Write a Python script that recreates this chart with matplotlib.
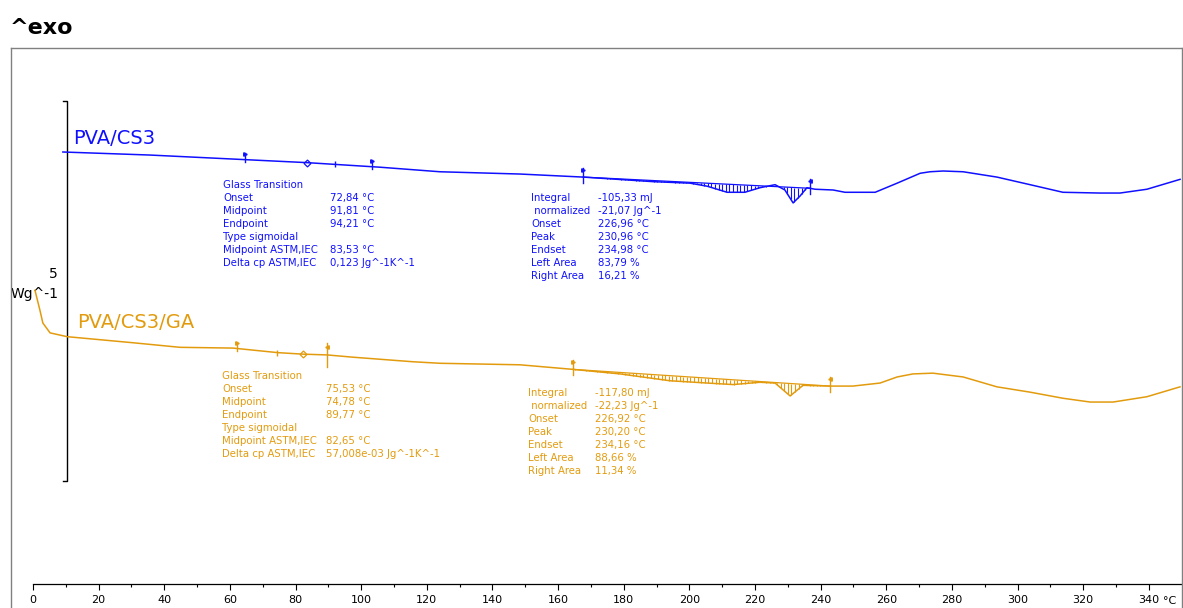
import numpy as np
import matplotlib
matplotlib.use('Agg')
import matplotlib.pyplot as plt
from matplotlib.lines import Line2D
from matplotlib.ticker import FixedLocator, FuncFormatter

# DSC curves: temperature (degC) and heat flow (W/g, exo up, curves offset)
t_cs3 = [9.1, 35.6, 54.8, 83.5, 105.7, 124.0, 148.4, 167.6, 188.9, 200.2,
         205.4, 211.5, 216.9, 221.5, 226.1, 229.1, 231.6, 233.7, 235.8, 238.3,
         243.8, 247.4, 256.6, 263.3, 270.3, 273.3, 277.3, 283.4, 293.7, 303.8,
         313.8, 325.1, 331.2, 339.4, 349.5]
hf_cs3 = [6.00, 5.96, 5.92, 5.86, 5.80, 5.74, 5.71, 5.67, 5.61, 5.59,
          5.55, 5.47, 5.47, 5.53, 5.57, 5.50, 5.33, 5.42, 5.53, 5.51,
          5.50, 5.47, 5.47, 5.59, 5.72, 5.74, 5.75, 5.74, 5.67, 5.57,
          5.47, 5.46, 5.46, 5.51, 5.64]

t_ga = [0.6, 2.1, 3.0, 5.2, 10.4, 30.5, 44.8, 60.9, 74.6, 82.3,
        89.6, 97.5, 115.8, 124.0, 148.4, 164.5, 178.9, 194.1, 205.4, 213.3,
        221.5, 226.1, 230.7, 234.6, 242.8, 249.8, 258.1, 263.3, 268.1, 274.2,
        283.4, 293.7, 303.8, 313.8, 322.1, 329.1, 339.4, 349.5]
hf_ga = [4.18, 3.92, 3.75, 3.62, 3.57, 3.49, 3.43, 3.42, 3.36, 3.34,
         3.33, 3.30, 3.24, 3.22, 3.20, 3.14, 3.08, 2.99, 2.96, 2.94,
         2.97, 2.96, 2.79, 2.93, 2.92, 2.92, 2.96, 3.04, 3.08, 3.09,
         3.04, 2.91, 2.84, 2.76, 2.71, 2.71, 2.78, 2.91]

# evaluation markers (degC)
gt_marks_cs3 = [64.6, 83.5, 92.0, 103.3]
gt_marks_ga = [62.2, 74.3, 82.3, 89.6]
int_limits_cs3 = [167.6, 236.7]
int_limits_ga = [164.5, 242.8]

gt_labels = ['Glass Transition', 'Onset', 'Midpoint', 'Endpoint',
             'Type sigmoidal', 'Midpoint ASTM,IEC', 'Delta cp ASTM,IEC']
gt_vals_cs3 = ['', '72,84 °C', '91,81 °C', '94,21 °C', '', '83,53 °C',
               '0,123 Jg^-1K^-1']
gt_vals_ga = ['', '75,53 °C', '74,78 °C', '89,77 °C', '', '82,65 °C',
              '57,008e-03 Jg^-1K^-1']
int_labels = ['Integral', ' normalized', 'Onset', 'Peak', 'Endset',
              'Left Area', 'Right Area']
int_vals_cs3 = ['-105,33 mJ', '-21,07 Jg^-1', '226,96 °C', '230,96 °C',
                '234,98 °C', '83,79 %', '16,21 %']
int_vals_ga = ['-117,80 mJ', '-22,23 Jg^-1', '226,92 °C', '230,20 °C',
               '234,16 °C', '88,66 %', '11,34 %']

BLUE = '#1010ff'
ORANGE = '#e39b0e'
W, H = 1183, 608
PX_PER_C = 3.282
X0_PX = 33
PX_PER_Y = 76.0


def px(xp, yp):
    # pixel position -> data coords
    return (xp - X0_PX) / PX_PER_C, (H - yp) / PX_PER_Y


fig = plt.figure(figsize=(W / 100, H / 100), dpi=100)
fig.patch.set_facecolor('white')
ax = fig.add_axes([0, 0, 1, 1])
ax.set_xlim(px(0, 0)[0], px(W, 0)[0])
ax.set_ylim(0, H / PX_PER_Y)
for s in ['left', 'right', 'top']:
    ax.spines[s].set_visible(False)
ax.set_yticks([])

# frame
fc = '#808080'
for xs, ys in [([11, 11], [48, H]), ([11, 1182], [48, 48]), ([1182, 1182], [48, H])]:
    fig.add_artist(Line2D([x / W for x in xs], [1 - y / H for y in ys],
                          color=fc, lw=1.0))

fig.text(10 / W, 1 - 28 / H, '^exo', fontsize=16, fontweight='bold',
         ha='left', va='center')

# temperature axis
ax.spines['bottom'].set_position(('data', px(0, 584)[1]))
ax.spines['bottom'].set_bounds(0, px(W, 0)[0])
ax.spines['bottom'].set_linewidth(0.9)
ax.xaxis.set_major_locator(FixedLocator(np.arange(0, 341, 20)))
ax.xaxis.set_minor_locator(FixedLocator(np.arange(10, 341, 20)))
ax.xaxis.set_major_formatter(FuncFormatter(lambda v, p: f'{v:.0f}'))
ax.tick_params(axis='x', which='major', direction='out', length=4,
               width=0.8, labelsize=8, pad=4)
ax.tick_params(axis='x', which='minor', direction='out', length=2.5, width=0.8)
cx, cy = px(1163, 601)
ax.text(cx, cy, '°C', fontsize=8, ha='left', va='center')

# scale bar 5 W/g
sx, _ = px(67, 0)
sx2, _ = px(63, 0)
y_top, y_bot = px(0, 101)[1], px(0, 481)[1]
ax.plot([sx2, sx, sx, sx2], [y_top, y_top, y_bot, y_bot], color='black', lw=1.0)
ax.text(*px(58, 274), '5', fontsize=10, ha='right', va='center')
ax.text(*px(59, 294), 'Wg^-1', fontsize=10, ha='right', va='center')


def draw_curve(t, hf, color, gt_marks, limits, kinds):
    t = np.array(t)
    hf = np.array(hf)
    ax.plot(t, hf, color=color, lw=1.1, zorder=3)
    u = 1 / PX_PER_Y
    # glass transition markers
    for tm, kind in zip(gt_marks, kinds):
        ym = np.interp(tm, t, hf)
        if kind == 'flag':
            ax.plot([tm, tm], [ym - 2 * u, ym + 7 * u], color=color, lw=1.0)
            ax.plot([tm], [ym + 6 * u], marker='>', ms=2.5, color=color)
        elif kind == 'diamond':
            ax.plot([tm], [ym], marker='D', ms=3.5, mfc='white', mec=color, mew=0.9)
        elif kind == 'tick':
            ax.plot([tm], [ym], marker='|', ms=5, color=color, mew=1.0)
        elif kind == 'tall':
            ax.plot([tm, tm], [ym - 12 * u, ym + 12 * u], color=color, lw=1.0)
            ax.plot([tm], [ym + 8 * u], marker='<', ms=2.5, color=color)
    # integration baseline and hatching
    t0, t1 = limits
    b0, b1 = np.interp(t0, t, hf), np.interp(t1, t, hf)
    ax.plot([t0, t1], [b0, b1], color=color, lw=0.9)
    ts = np.arange(t0 + 0.6, t1, 1.1)
    base = np.interp(ts, [t0, t1], [b0, b1])
    cur = np.interp(ts, t, hf)
    m = cur < base
    ax.vlines(ts[m], cur[m], base[m], color=color, lw=0.8)
    for tl, yb, side in [(t0, b0, '>'), (t1, b1, '<')]:
        ax.plot([tl, tl], [yb - 6 * u, yb + 9 * u], color=color, lw=1.0)
        ax.plot([tl], [yb + 7 * u], marker=side, ms=2.5, color=color)


draw_curve(t_cs3, hf_cs3, BLUE, gt_marks_cs3, int_limits_cs3,
           ['flag', 'diamond', 'tick', 'flag'])
draw_curve(t_ga, hf_ga, ORANGE, gt_marks_ga, int_limits_ga,
           ['flag', 'tick', 'diamond', 'tall'])

ax.text(*px(73, 138), 'PVA/CS3', color=BLUE, fontsize=14, ha='left', va='center')
ax.text(*px(77, 322), 'PVA/CS3/GA', color=ORANGE, fontsize=14, ha='left', va='center')


def text_block(labels, vals, x_lab, x_val, y0, color):
    for i, (lab, val) in enumerate(zip(labels, vals)):
        yy = y0 + 13 * i
        ax.text(*px(x_lab, yy), lab, color=color, fontsize=7.3, ha='left', va='center')
        if val:
            ax.text(*px(x_val, yy), val, color=color, fontsize=7.3, ha='left', va='center')


text_block(gt_labels, gt_vals_cs3, 223, 330, 185, BLUE)
text_block(int_labels, int_vals_cs3, 531, 598, 198, BLUE)
text_block(gt_labels, gt_vals_ga, 222, 326, 376, ORANGE)
text_block(int_labels, int_vals_ga, 528, 595, 393, ORANGE)

fig.savefig('out.png', dpi=100, facecolor='white')
